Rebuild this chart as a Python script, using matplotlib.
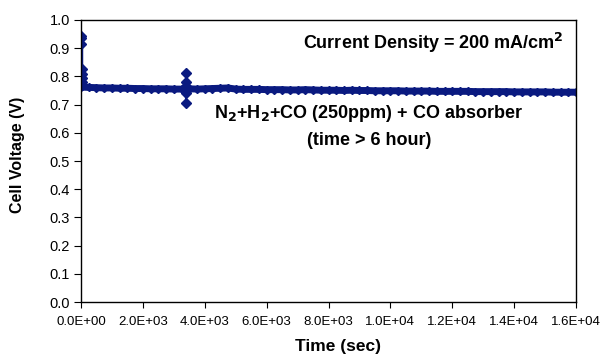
"""
Cell voltage vs time at 200 mA/cm2 with a CO absorber in the feed.

Output:
  - ./out.png
"""

import matplotlib.pyplot as plt

plt.rcParams["font.family"] = ["Liberation Sans", "DejaVu Sans"]

# Main run, one reading every 250 s
TIME_SEC = [
    0, 250, 500, 750, 1000, 1250, 1500, 1750, 2000, 2250, 2500, 2750, 3000,
    3250, 3500, 3750, 4000, 4250, 4500, 4750, 5000, 5250, 5500, 5750, 6000,
    6250, 6500, 6750, 7000, 7250, 7500, 7750, 8000, 8250, 8500, 8750, 9000,
    9250, 9500, 9750, 10000, 10250, 10500, 10750, 11000, 11250, 11500, 11750,
    12000, 12250, 12500, 12750, 13000, 13250, 13500, 13750, 14000, 14250,
    14500, 14750, 15000, 15250, 15500, 15750, 16000,
]
VOLTAGE = [
    0.762, 0.761, 0.760, 0.759, 0.759, 0.758, 0.758, 0.757, 0.757, 0.756,
    0.756, 0.756, 0.755, 0.755, 0.756, 0.755, 0.756, 0.757, 0.758, 0.759,
    0.755, 0.754, 0.754, 0.754, 0.753, 0.753, 0.753, 0.752, 0.752, 0.753,
    0.752, 0.751, 0.751, 0.751, 0.750, 0.751, 0.750, 0.750, 0.749, 0.749,
    0.749, 0.749, 0.748, 0.748, 0.748, 0.748, 0.747, 0.747, 0.747, 0.747,
    0.747, 0.746, 0.746, 0.746, 0.746, 0.746, 0.745, 0.745, 0.745, 0.745,
    0.745, 0.744, 0.744, 0.744, 0.744,
]

# Start-up transient and the disturbance near 3400 s
SPIKE_TIME = [0, 0, 0, 20, 20, 20, 40, 40, 3400, 3400, 3400, 3400, 3400]
SPIKE_VOLTAGE = [0.945, 0.935, 0.915, 0.825, 0.810, 0.795, 0.780, 0.770,
                 0.812, 0.780, 0.765, 0.740, 0.705]

NAVY = "#0a1a80"


def main():
    fig = plt.figure(figsize=(6.0, 3.57), dpi=100)
    ax = fig.add_axes([0.135, 0.154, 0.825, 0.79])

    ax.plot(TIME_SEC, VOLTAGE, color=NAVY, lw=5, marker="D", ms=4.5,
            solid_capstyle="round")
    ax.plot(SPIKE_TIME, SPIKE_VOLTAGE, color=NAVY, lw=2, marker="D", ms=5.5,
            linestyle="none")
    ax.plot([0, 0], [0.76, 0.945], color=NAVY, lw=2.5)
    ax.plot([3400, 3400], [0.705, 0.812], color=NAVY, lw=1.5)

    ax.set_xlim(0, 16000)
    ax.set_ylim(0, 1.0)
    ax.set_xticks([0, 2000, 4000, 6000, 8000, 10000, 12000, 14000, 16000])
    ax.set_xticklabels(["0.0E+00", "2.0E+03", "4.0E+03", "6.0E+03", "8.0E+03",
                        "1.0E+04", "1.2E+04", "1.4E+04", "1.6E+04"])
    ax.set_yticks([i / 10 for i in range(11)])
    ax.set_yticklabels([f"{i / 10:.1f}" for i in range(11)])
    ax.tick_params(axis="x", labelsize=9.5, direction="out", length=4, pad=6)
    ax.tick_params(axis="y", labelsize=10.5, direction="out", length=5, pad=3)
    for s in ax.spines.values():
        s.set_linewidth(1.0)

    fig.text(338 / 600, 1 - 347 / 357, "Time (sec)", ha="center",
             va="center", fontsize=12.5, fontweight="bold")
    fig.text(18 / 600, 1 - 155 / 357, "Cell Voltage (V)", ha="center",
             va="center", rotation=90, fontsize=11.5, fontweight="bold")

    ax.text(0.974, 0.917, "Current Density = 200 mA/cm$^\\mathbf{2}$",
            transform=ax.transAxes, ha="right", va="center", fontsize=13,
            fontweight="bold")
    ax.text(0.582, 0.67,
            "N$_\\mathbf{2}$+H$_\\mathbf{2}$+CO (250ppm) + CO absorber",
            transform=ax.transAxes, ha="center", va="center", fontsize=13,
            fontweight="bold")
    ax.text(0.582, 0.574, "(time > 6 hour)", transform=ax.transAxes,
            ha="center", va="center", fontsize=13, fontweight="bold")

    fig.savefig("out.png", dpi=100)
    plt.close(fig)


if __name__ == "__main__":
    main()
